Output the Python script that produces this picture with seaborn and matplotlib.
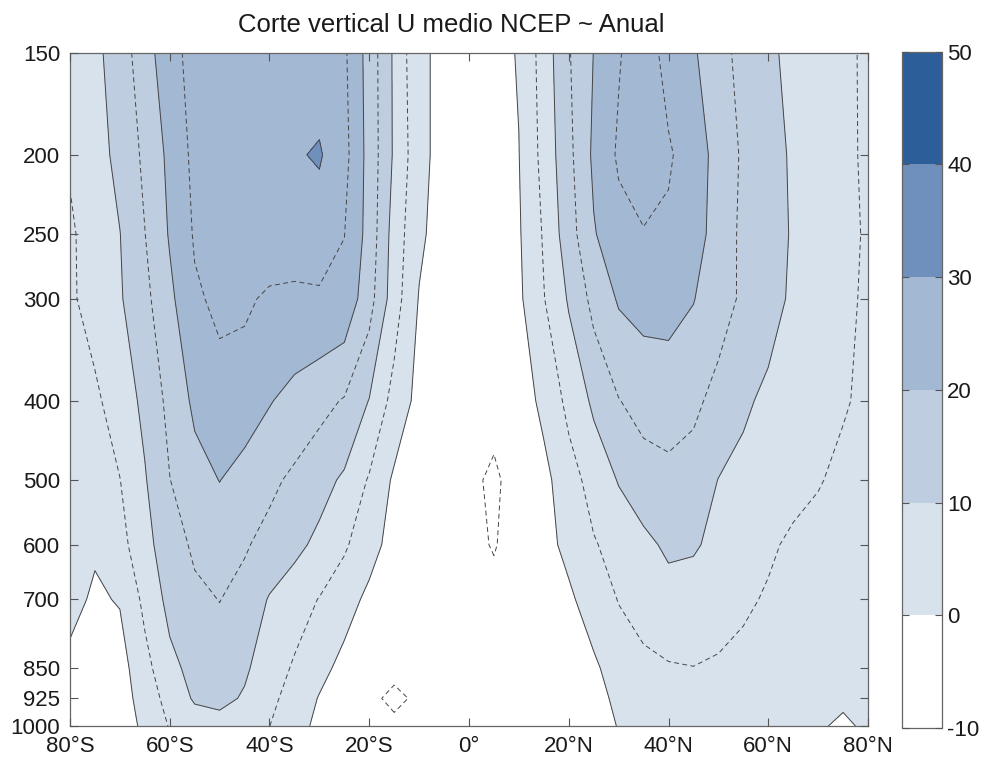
import numpy as np
import matplotlib
matplotlib.use('Agg')
import matplotlib.pyplot as plt
from matplotlib.colors import ListedColormap, BoundaryNorm
from matplotlib.ticker import NullLocator
import seaborn as sns

# Latitudes (deg, S negative) and NCEP pressure levels (hPa)
lats = [-80, -75, -70, -65, -60, -55, -50, -45, -40, -35, -30, -25, -20, -15, -10, -5,
        0, 5, 10, 15, 20, 25, 30, 35, 40, 45, 50, 55, 60, 65, 70, 75, 80]
plevs = [1000, 925, 850, 700, 600, 500, 400, 300, 250, 200, 150]

# Annual zonal mean U (m/s) on each level
u_1000 = [-2.0, -3.5, -3.0, 1.2, 5.3, 7.6, 8.2, 7.2, 5.05, 1.9, -1.2, -3.5, -4.5, -4.5, -3.5, -2.0,
          -1.0, -1.0, -3.0, -4.2, -3.8, -2.0, 0.2, 1.8, 2.8, 3.2, 3.0, 2.4, 1.8, 1.2, 0.35, -0.5, 0.5]
u_925 = [-2.0, -3.0, -2.4, 2.2, 6.8, 10.6, 11.3, 9.5, 6.1, 3.2, -0.3, -3.0, -4.5, -5.5, -4.6, -3.0,
         -2.0, -2.0, -3.5, -4.0, -3.5, -1.6, 1.0, 2.8, 3.6, 4.0, 3.8, 3.2, 2.6, 2.0, 1.2, 0.5, 0.6]
u_850 = [-1.0, -2.0, -2.0, 3.4, 8.6, 11.6, 12.8, 10.7, 7.5, 4.4, 1.5, -1.5, -3.5, -4.4, -3.5, -3.0,
         -2.5, -2.5, -3.0, -3.5, -2.8, -0.8, 2.2, 3.7, 4.6, 4.9, 4.4, 3.6, 2.8, 2.2, 1.5, 1.0, 0.8]
u_700 = [1.2, -0.6, 0.3, 6.2, 11.5, 14.0, 15.1, 13.4, 9.6, 7.2, 4.8, 2.0, -1.1, -3.0, -3.5, -3.5,
         -3.5, -3.7, -3.0, -2.5, -0.8, 2.2, 5.2, 7.2, 8.3, 8.0, 7.0, 5.8, 4.5, 3.6, 3.0, 2.6, 2.2]
u_600 = [1.5, 0.5, 3.3, 8.4, 12.8, 15.8, 17.0, 15.5, 13.4, 11.3, 8.8, 5.7, 1.8, -1.8, -3.5, -3.8,
         -3.8, -5.3, -3.0, -1.5, 1.2, 4.6, 6.8, 8.9, 10.8, 10.5, 8.85, 7.3, 5.7, 4.2, 3.5, 3.0, 2.5]
u_500 = [1.8, 3.3, 4.9, 9.6, 14.9, 18.2, 20.1, 18.1, 16.1, 14.0, 11.8, 9.2, 4.5, -0.8, -3.0, -3.5,
         -4.0, -5.8, -3.0, -1.4, 3.0, 6.85, 10.3, 12.5, 13.5, 12.8, 9.9, 8.8, 7.6, 6.4, 5.3, 4.0, 3.0]
u_400 = [2.5, 4.1, 7.4, 11.1, 16.4, 21.0, 23.2, 22.5, 20.3, 18.4, 16.5, 14.6, 9.8, 3.2, -1.5, -3.0,
         -3.5, -3.5, -2.5, 1.2, 6.3, 10.9, 14.8, 17.0, 17.5, 16.1, 13.4, 10.7, 9.1, 7.8, 6.6, 5.4, 4.1]
u_300 = [4.3, 6.8, 9.5, 13.7, 18.9, 24.3, 26.0, 25.8, 24.2, 24.0, 24.3, 23.5, 17.0, 7.3, -0.3, -3.0,
         -3.5, -3.0, -0.9, 4.8, 10.5, 16.5, 20.5, 21.5, 21.5, 20.2, 17.1, 14.2, 11.6, 9.3, 7.6, 6.0, 4.3]
u_250 = [4.3, 7.2, 9.9, 14.9, 20.45, 25.5, 27.5, 28.5, 28.0, 27.5, 27.5, 25.1, 18.2, 7.8, 1.0, -2.5,
         -3.0, -2.5, -0.5, 5.5, 12.8, 19.6, 23.3, 24.6, 24.0, 22.1, 18.0, 13.9, 11.8, 9.6, 7.9, 6.2, 4.5]
u_200 = [5.5, 8.1, 11.3, 16.0, 21.2, 26.3, 28.0, 29.0, 29.3, 29.5, 30.5, 26.6, 18.2, 9.3, 1.6, -2.0,
         -2.5, -2.0, -0.1, 6.6, 13.7, 20.9, 25.7, 28.5, 25.7, 22.1, 18.6, 14.2, 11.7, 9.4, 7.7, 6.0, 4.3]
u_150 = [7.0, 8.4, 13.3, 16.9, 24.7, 25.3, 27.0, 28.0, 28.5, 28.8, 27.5, 25.8, 18.0, 9.2, 0.8, -1.0,
         -2.0, -1.5, 0.3, 7.2, 14.6, 20.1, 24.6, 28.0, 23.0, 20.6, 16.7, 13.5, 10.8, 8.9, 7.4, 5.9, 4.3]

fill_levels = [-10, 0, 10, 20, 30, 40, 50]
line_levels = [-5, 0, 5, 10, 15, 20, 25, 30]
fill_colors = ['#ffffff', '#d8e2ed', '#bfcde0', '#a3b8d3', '#6f90bd', '#2c5f99']

lat_ticks = [-80, -60, -40, -20, 0, 20, 40, 60, 80]
lat_labels = ['80°S', '60°S', '40°S', '20°S', '0°', '20°N', '40°N', '60°N', '80°N']

sns.set_style('white')
plt.rcParams['font.family'] = ['Liberation Sans', 'DejaVu Sans']
plt.rcParams['axes.unicode_minus'] = False

U = np.array([u_1000, u_925, u_850, u_700, u_600, u_500, u_400, u_300, u_250, u_200, u_150])

fig = plt.figure(figsize=(9.87, 7.63), dpi=100)
ax = fig.add_axes([70 / 987, 1 - 726 / 763, 798 / 987, 673.3 / 763])
ax.set_axisbelow(False)  # keep the inward ticks on top of the fills

cmap = ListedColormap(sns.color_palette(fill_colors))
norm = BoundaryNorm(fill_levels, cmap.N)
cf = ax.contourf(lats, plevs, U, levels=fill_levels, cmap=cmap, norm=norm)

# solid lines every 10, dashed halfway in between
styles = [(0, (5, 3.5)) if lev % 10 else 'solid' for lev in line_levels]
ax.contour(lats, plevs, U, levels=line_levels, colors='#454545', linewidths=0.7, linestyles=styles)

ax.set_yscale('log')
ax.set_ylim(1000, 150)
ax.set_yticks(plevs)
ax.set_yticklabels([str(p) for p in plevs])
ax.yaxis.set_minor_locator(NullLocator())
ax.set_xlim(-80, 80)
ax.set_xticks(lat_ticks)
ax.set_xticklabels(lat_labels)

ax.tick_params(direction='in', bottom=True, left=True, top=True, right=True, length=6, width=0.8,
               color='#555555', labelsize=16, labelcolor='#1a1a1a', pad=7)
for s in ax.spines.values():
    s.set_edgecolor('#666666')
    s.set_linewidth(0.9)

fig.text(451 / 987, 1 - 32 / 763, 'Corte vertical U medio NCEP ~ Anual', ha='center', va='baseline',
         fontsize=18.5, color='#1a1a1a')

# Colorbar
cax = fig.add_axes([901.7 / 987, 1 - 728 / 763, 40 / 987, 676.3 / 763])
cb = fig.colorbar(cf, cax=cax, ticks=fill_levels)
cb.ax.set_axisbelow(False)
cb.ax.tick_params(direction='in', left=True, right=True, length=5, width=0.8, color='#555555',
                  labelsize=16, labelcolor='#1a1a1a', pad=4)
cb.outline.set_edgecolor('#666666')
cb.outline.set_linewidth(0.9)

fig.savefig('out.png', dpi=100)
